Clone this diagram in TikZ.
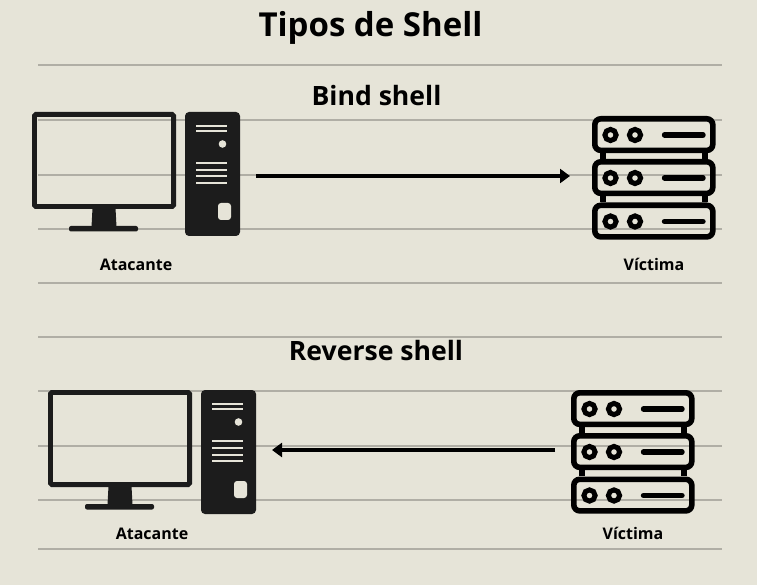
\documentclass[tikz,border=0pt]{standalone}
\usepackage{fontspec}
\setmainfont{Open Sans}
\usetikzlibrary{positioning}
\usetikzlibrary{calc}
\usetikzlibrary{arrows.meta}
\definecolor{paper}{HTML}{E6E4D8}
\definecolor{ruled}{HTML}{B0AEA5}
\definecolor{icon}{HTML}{1C1C1C}
\tikzset{
	heading/.style={font=\bfseries\fontsize{#1}{#1}\selectfont,text=black,inner sep=0pt,anchor=base},
	caption/.style={font=\bfseries\fontsize{16}{16}\selectfont,text=black,inner sep=0pt,anchor=base},
	ruling/.style={draw=ruled,line width=1.5pt},
	link/.style={draw=black,line width=4.4pt,-{Triangle[length=10pt,width=14pt]}},
	rackbox/.style={draw=black,line width=5.6pt,rounded corners=6pt},
	pics/computer/.style={code={
		% screen
		\draw[icon,line width=4.8pt,rounded corners=1.5pt] (2.4,2.4) rectangle (141.6,94.6);
		\fill[icon] (60.5,96) -- (83.5,96) -- (84.5,115) -- (59.5,115) -- cycle;
		\fill[icon,rounded corners=2pt] (37,114) rectangle (106,119.5);
		% tower
		\fill[icon,rounded corners=4pt] (153,0) rectangle (208,124);
		\foreach \y in {14,19,51,58,64.5,71}
			\draw[paper,line width=2pt] (164,\y) -- (195,\y);
		\fill[paper] (190.5,32) circle (3.8pt);
		\fill[paper,rounded corners=3pt] (186,91) rectangle (199,108);
		\coordinate (-port) at (224,60);
	}},
	pics/rack/.style={code={
		\foreach \y in {0,43,86.5} {
			\draw[rackbox] (2.8,\y+2.8) rectangle (120.8,\y+34.4);
			\draw[black,line width=5pt] (18.5,\y+19) circle (5.6pt);
			\draw[black,line width=5pt] (43,\y+19) circle (5.6pt);
			\draw[black,line width=5.4pt,line cap=round] (72.5,\y+19) -- (111,\y+19);
		}
		\foreach \y in {37,80} {
			\fill[black] (8,\y) rectangle (14,\y+6);
			\fill[black] (110,\y) rectangle (116,\y+6);
		}
		\coordinate (-port) at (-22,60);
	}},
}

\begin{document}
\begin{tikzpicture}[x=1pt,y=-1pt]
	\fill[paper] (0,0) rectangle (757,585);
	\useasboundingbox (0,0) rectangle (757,585);
	
	% Paper lines
	\foreach \y in {65,120,175,229,283,337,391,446,500,549}
		\draw[ruling] (38,\y) -- (722,\y);
	
	\node[heading=33] (title) at (370.5,36.5) {Tipos de Shell};
	
	% Bind shell
	\node[heading=26.6] (bind head) at (376.5,105.5) {Bind shell};
	\pic (bindatk) at (32,112) {computer};
	\pic (bindvic) at (592,116) {rack};
	\node[caption] (bind atk label) at (136,270) {Atacante};
	\node[caption] (bind vic label) at (654,270) {Víctima};
	\draw[link] (bindatk-port |- bindvic-port) -- (bindvic-port);
	
	% Reverse shell
	\node[heading=26.6] (rev head) at (376,360.5) {Reverse shell};
	\pic (revatk) at (48,390) {computer};
	\pic (revvic) at (571,390) {rack};
	\node[caption] (rev atk label) at (152,539) {Atacante};
	\node[caption] (rev vic label) at (633,539) {Víctima};
	\draw[link,shorten <=-6pt] (revvic-port) -- (revatk-port);
\end{tikzpicture}
\end{document}
